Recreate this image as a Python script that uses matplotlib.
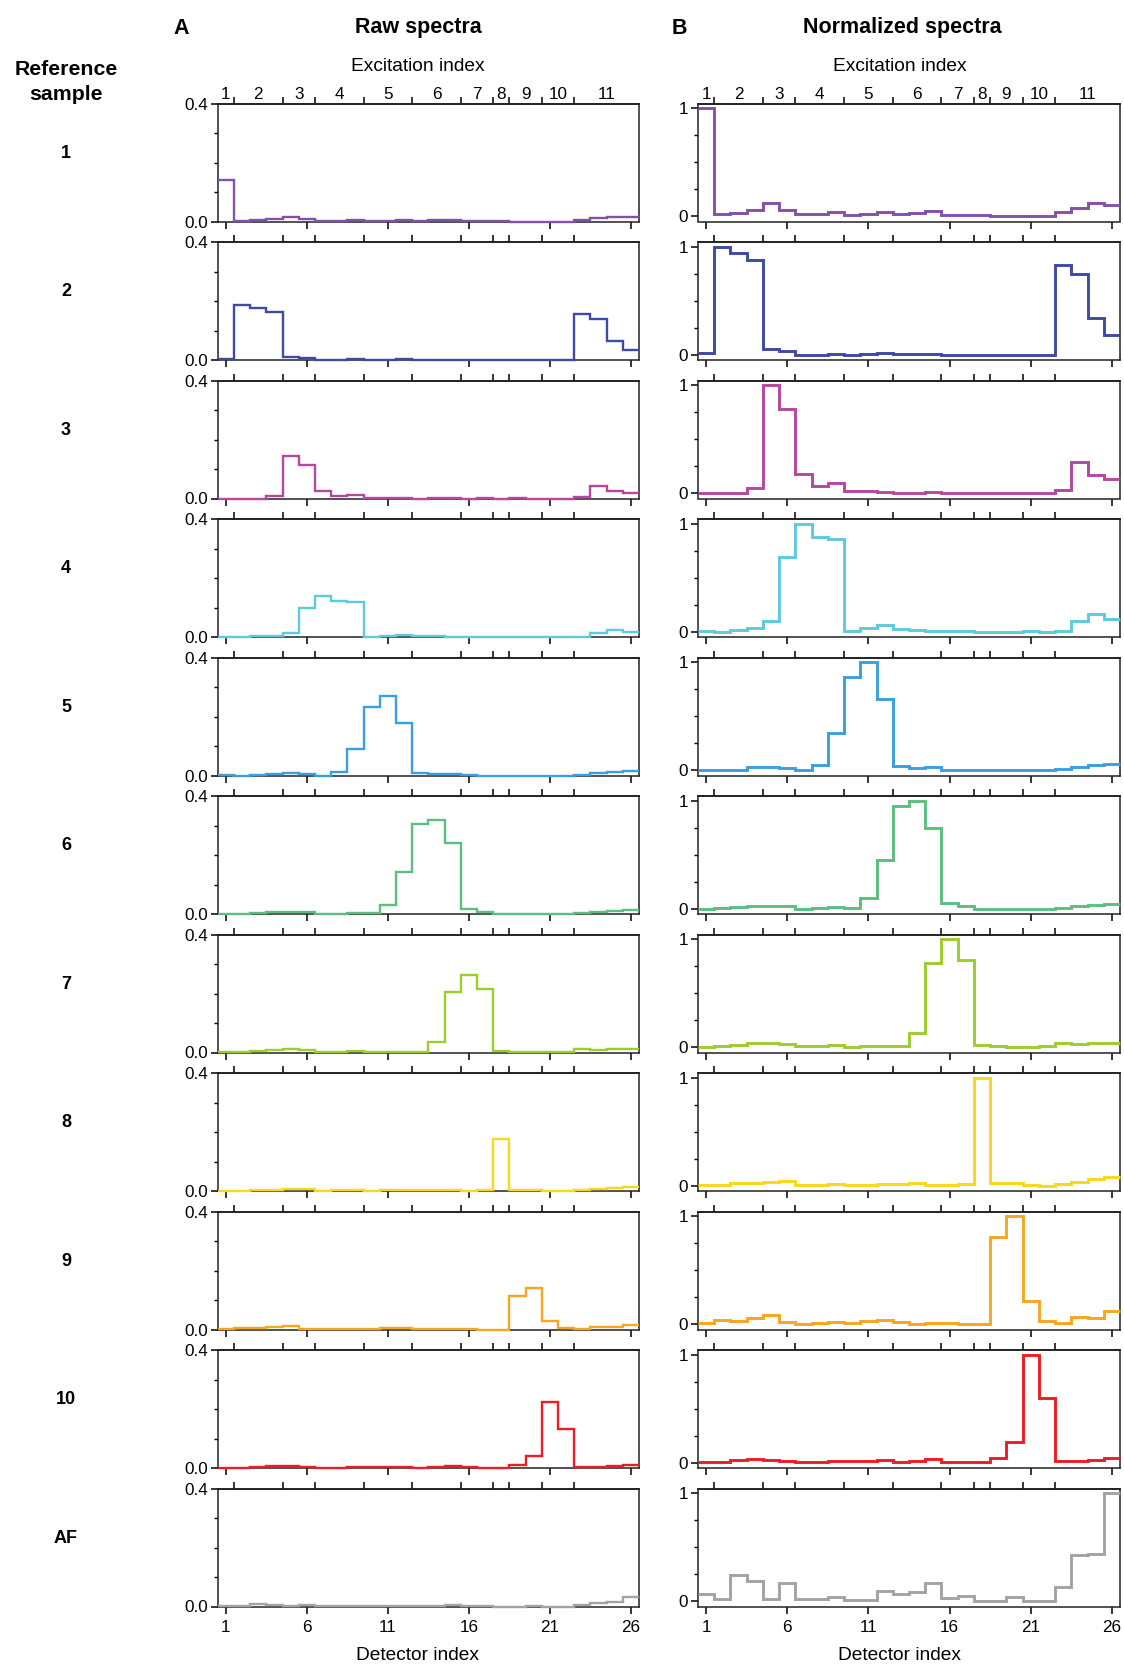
import numpy as np
import matplotlib
matplotlib.use("Agg")
import matplotlib.pyplot as plt
from matplotlib.ticker import FixedLocator, FixedFormatter, NullFormatter

plt.rcParams['font.family'] = ['Liberation Sans', 'DejaVu Sans']

# ---------------- data ----------------
detectors = np.arange(1, 27)
sample_labels = ['1', '2', '3', '4', '5', '6', '7', '8', '9', '10', 'AF']
colors = ['#8350ad', '#3e4aa5', '#b6479f', '#5ecbdc', '#3a9fe0', '#5cbf80',
          '#9dcc2d', '#fbd71b', '#f9a51f', '#ee1d25', '#a3a3a3']
excitation_labels = ['1', '2', '3', '4', '5', '6', '7', '8', '9', '10', '11']
excitation_first_detector = [1, 2, 5, 7, 10, 13, 16, 18, 19, 21, 23]
bottom_ticks = [1, 6, 11, 16, 21, 26]

# normalized spectra (panel B), one list per reference sample
norm_1 = [1.0, 0.02, 0.028, 0.06, 0.12, 0.06, 0.015, 0.02, 0.04, 0.01, 0.02, 0.04, 0.015,
          0.025, 0.043, 0.012, 0.012, 0.006, 0.0, 0.0, 0.0, 0.0, 0.04, 0.077, 0.117, 0.1]
norm_2 = [0.015, 1.0, 0.94, 0.88, 0.055, 0.037, 0.0, 0.0, 0.01, 0.0, 0.006, 0.012, 0.003,
          0.003, 0.006, 0.0, 0.0, 0.0, 0.0, 0.0, 0.0, 0.0, 0.83, 0.745, 0.34, 0.185]
norm_3 = [0.0, 0.0, 0.0, 0.05, 1.0, 0.78, 0.18, 0.065, 0.09, 0.015, 0.015, 0.008, 0.0,
          0.005, 0.008, 0.0, 0.003, 0.0, 0.003, 0.0, 0.0, 0.0, 0.03, 0.29, 0.165, 0.13]
norm_4 = [0.01, 0.0, 0.015, 0.03, 0.1, 0.695, 1.0, 0.88, 0.86, 0.01, 0.035, 0.06, 0.02,
          0.015, 0.01, 0.01, 0.005, 0.0, 0.0, 0.0, 0.005, 0.0, 0.01, 0.1, 0.16, 0.12]
norm_5 = [0.005, 0.0, 0.005, 0.025, 0.03, 0.02, 0.0, 0.05, 0.34, 0.865, 1.0, 0.66, 0.037,
          0.02, 0.025, 0.005, 0.0, 0.0, 0.0, 0.0, 0.0, 0.0, 0.01, 0.03, 0.045, 0.053]
norm_6 = [0.0, 0.003, 0.012, 0.025, 0.022, 0.025, 0.0, 0.003, 0.015, 0.01, 0.095, 0.447, 0.95,
          1.0, 0.75, 0.05, 0.022, 0.0, 0.0, 0.0, 0.0, 0.0, 0.01, 0.02, 0.03, 0.04]
norm_7 = [0.003, 0.006, 0.02, 0.035, 0.04, 0.03, 0.006, 0.006, 0.015, 0.003, 0.01, 0.01, 0.01,
          0.135, 0.775, 1.0, 0.81, 0.02, 0.006, 0.003, 0.003, 0.01, 0.04, 0.028, 0.04, 0.04]
norm_8 = [0.003, 0.006, 0.02, 0.028, 0.03, 0.045, 0.003, 0.01, 0.012, 0.006, 0.01, 0.012, 0.015,
          0.02, 0.01, 0.006, 0.012, 1.0, 0.02, 0.02, 0.003, 0.0, 0.012, 0.03, 0.06, 0.08]
norm_9 = [0.01, 0.035, 0.025, 0.06, 0.085, 0.02, 0.003, 0.012, 0.015, 0.006, 0.03, 0.037, 0.02,
          0.003, 0.012, 0.006, 0.0, 0.0, 0.81, 1.0, 0.21, 0.03, 0.012, 0.07, 0.055, 0.12]
norm_10 = [0.006, 0.003, 0.022, 0.035, 0.028, 0.015, 0.006, 0.006, 0.012, 0.012, 0.012, 0.022, 0.003,
           0.015, 0.035, 0.01, 0.003, 0.006, 0.045, 0.19, 1.0, 0.6, 0.015, 0.015, 0.025, 0.04]
norm_af = [0.07, 0.02, 0.24, 0.185, 0.02, 0.165, 0.02, 0.02, 0.037, 0.01, 0.01, 0.09, 0.062,
           0.087, 0.165, 0.028, 0.047, 0.0, 0.0, 0.037, 0.0, 0.0, 0.135, 0.43, 0.44, 1.0]
normalized = [norm_1, norm_2, norm_3, norm_4, norm_5, norm_6, norm_7, norm_8, norm_9, norm_10, norm_af]

# raw spectrum maximum of each reference sample (panel A)
raw_peak = [0.141, 0.187, 0.145, 0.140, 0.269, 0.321, 0.265, 0.178, 0.141, 0.223, 0.031]

# ---------------- layout ----------------
W, H = 1124, 1664
fig = plt.figure(figsize=(W / 100, H / 100), dpi=100)

col_x = [217.7, 698.0]
col_w = [421.3, 422.0]
col_text_x = [418.0, 900.0]
row_top0, row_pitch, row_h = 103.8, 138.5, 117.7

edges = np.arange(0.5, 27.0, 1.0)
ex_bounds = [d - 0.5 for d in excitation_first_detector[1:]]
ex_last = excitation_first_detector[1:] + [27]
ex_centers = [(a + b - 1) / 2 for a, b in zip(excitation_first_detector, ex_last)]

tick_fs = 12.3
label_fs = 13.8
n_rows = len(sample_labels)

for col in range(2):
    for r in range(n_rows):
        top = row_top0 + r * row_pitch
        ax = fig.add_axes([col_x[col] / W, 1 - (top + row_h) / H, col_w[col] / W, row_h / H])
        if col == 0:
            vals = np.array(normalized[r]) * raw_peak[r]
            lw = 1.7
        else:
            vals = np.array(normalized[r])
            lw = 2.1
        ax.stairs(vals, edges, baseline=None, color=colors[r], lw=lw, clip_on=False, zorder=3)
        ax.set_xlim(0.5, 26.5)
        if col == 0:
            ax.set_ylim(0, 0.4)
            ax.yaxis.set_major_locator(FixedLocator([0.0, 0.4]))
            ax.yaxis.set_major_formatter(FixedFormatter(['0.0', '0.4']))
            ax.yaxis.set_minor_locator(FixedLocator([0.1, 0.2, 0.3]))
        else:
            ax.set_ylim(-0.05, 1.04)
            ax.yaxis.set_major_locator(FixedLocator([0, 1]))
            ax.yaxis.set_major_formatter(FixedFormatter(['0', '1']))
            ax.yaxis.set_minor_locator(FixedLocator([0.25, 0.5, 0.75]))
        ax.xaxis.set_major_locator(FixedLocator(bottom_ticks))
        ax.tick_params(axis='both', which='major', direction='out', length=5, width=1.1,
                       labelsize=tick_fs, pad=2)
        ax.tick_params(axis='x', which='major', pad=5)
        ax.tick_params(axis='y', which='minor', direction='out', length=3, width=1.0)
        if r < n_rows - 1:
            ax.set_xticklabels([])
        else:
            ax.set_xticklabels([str(t) for t in bottom_ticks])
        for sp in ax.spines.values():
            sp.set_linewidth(1.1)
            sp.set_color('#222222')

        sec = ax.secondary_xaxis('top')
        sec.xaxis.set_major_locator(FixedLocator(ex_bounds))
        sec.xaxis.set_major_formatter(NullFormatter())
        sec.tick_params(axis='x', which='major', direction='out', length=5, width=1.1)
        sec.spines['top'].set_linewidth(1.1)
        if r == 0:
            sec.xaxis.set_minor_locator(FixedLocator(ex_centers))
            sec.xaxis.set_minor_formatter(FixedFormatter(excitation_labels))
            sec.tick_params(axis='x', which='minor', length=0, labelsize=tick_fs, pad=1)
        else:
            sec.xaxis.set_minor_locator(FixedLocator([]))

        if col == 0:
            fig.text(66 / W, 1 - (top + row_h * 0.42) / H, sample_labels[r],
                     ha='center', va='center', fontsize=13, fontweight='bold')

    # axis titles of each column
    fig.text(col_text_x[col] / W, 1 - 66.5 / H, 'Excitation index', ha='center', va='center',
             fontsize=label_fs)
    fig.text(col_text_x[col] / W, 1 - 1655 / H, 'Detector index', ha='center', va='center',
             fontsize=label_fs)

# headers
fig.text(181 / W, 1 - 28 / H, 'A', ha='center', va='center', fontsize=15.5, fontweight='bold')
fig.text(418 / W, 1 - 28 / H, 'Raw spectra', ha='center', va='center', fontsize=15.5, fontweight='bold')
fig.text(679 / W, 1 - 28 / H, 'B', ha='center', va='center', fontsize=15.5, fontweight='bold')
fig.text(902 / W, 1 - 28 / H, 'Normalized spectra', ha='center', va='center', fontsize=15.5, fontweight='bold')
fig.text(66 / W, 1 - 82 / H, 'Reference\nsample', ha='center', va='center', fontsize=15.3,
         fontweight='bold', linespacing=1.4)

fig.savefig('out.png', dpi=100)
